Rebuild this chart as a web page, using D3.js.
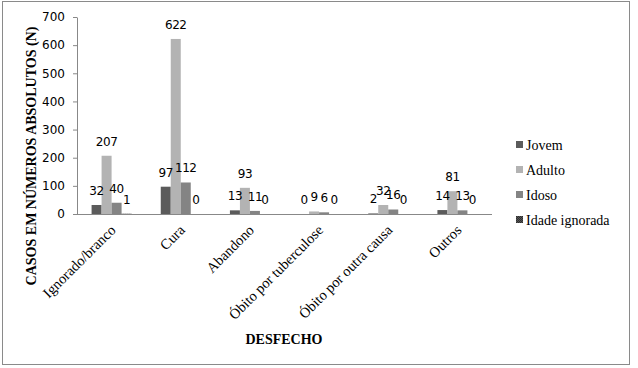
<!DOCTYPE html>
<html><head><meta charset="utf-8">
<script src="https://cdn.jsdelivr.net/npm/d3@7"></script>
<style>body{margin:0;background:#fff}svg{display:block}
.serif{font-family:"Liberation Serif","Times New Roman",Times,"DejaVu Serif",serif}</style>
</head><body>
<script>
const categories = ["Ignorado/branco","Cura","Abandono","Óbito por tuberculose","Óbito por outra causa","Outros"];
const seriesNames = ["Jovem","Adulto","Idoso","Idade ignorada"];
const jovem   = [32, 97, 13, 0, 2, 14];
const adulto  = [207, 622, 93, 9, 32, 81];
const idoso   = [40, 112, 11, 6, 16, 13];
const ignorada= [1, 0, 0, 0, 0, 0];
const yTicks = [0,100,200,300,400,500,600,700];
const seriesValues = [jovem, adulto, idoso, ignorada];
const colors = ["#5b5b5b","#b3b3b3","#848484","url(#hatch)"];

const W=638,H=368;
const svg=d3.select("body").append("svg").attr("width",W).attr("height",H);
const defs=svg.append("defs");
const pat=defs.append("pattern").attr("id","hatch").attr("patternUnits","userSpaceOnUse").attr("width",2).attr("height",2);
pat.append("rect").attr("width",2).attr("height",2).attr("fill","#555");
pat.append("rect").attr("width",1).attr("height",1).attr("fill","#2e2e2e");
pat.append("rect").attr("x",1).attr("y",1).attr("width",1).attr("height",1).attr("fill","#2e2e2e");

svg.append("rect").attr("x",2.5).attr("y",1.5).attr("width",627).attr("height",363).attr("fill","none").attr("stroke","#8a8a8a");

const x0=d3.scaleBand().domain(categories).range([77,492]).padding(0);
const barW=10;
const y=d3.scaleLinear().domain([0,700]).range([214,17]);

// y axis
const ya=svg.append("g").attr("transform","translate(77,0)")
  .call(d3.axisLeft(y).tickValues(yTicks).tickSize(4).tickSizeOuter(0).tickPadding(8));
ya.select(".domain").attr("stroke","#888");
ya.selectAll(".tick line").attr("stroke","#888");
ya.selectAll("text").attr("font-family","DejaVu Sans").attr("font-size",12).attr("fill","#000");

// bars
seriesValues.forEach((vals,si)=>{
  const g=svg.append("g");
  categories.forEach((c,ci)=>{
    const cx=x0(c)+x0.bandwidth()/2;
    const bx=cx-2*barW+si*barW;
    g.append("rect").attr("x",bx).attr("y",y(vals[ci])).attr("width",barW)
      .attr("height",y(0)-y(vals[ci])).attr("fill",colors[si]);
  });
});

// x axis line
svg.append("line").attr("x1",77).attr("x2",492).attr("y1",214.5).attr("y2",214.5).attr("stroke","#888");

// labels
seriesValues.forEach((vals,si)=>{
  categories.forEach((c,ci)=>{
    const cx=x0(c)+x0.bandwidth()/2;
    const bx=cx-2*barW+si*barW+barW/2;
    svg.append("text").attr("x",bx).attr("y",y(vals[ci])-10)
      .attr("text-anchor","middle").attr("font-family","DejaVu Sans").attr("font-size",12)
      .attr("letter-spacing",-0.4)
      .text(vals[ci]);
  });
});

// category labels
categories.forEach(c=>{
  const cx=x0(c)+x0.bandwidth()/2+5;
  svg.append("text").attr("class","serif").attr("transform",`translate(${cx},231) rotate(-45)`)
    .attr("text-anchor","end").attr("font-size",14.5)
    .text(c);
});

// titles
svg.append("text").attr("class","serif").attr("transform","translate(36,156) rotate(-90)").attr("text-anchor","middle")
  .attr("font-weight","bold").attr("font-size",14)
  .text("CASOS EM NÚMEROS ABSOLUTOS (N)");
svg.append("text").attr("class","serif").attr("x",284).attr("y",344).attr("text-anchor","middle")
  .attr("font-weight","bold").attr("font-size",14)
  .text("DESFECHO");

// legend
seriesNames.forEach((n,i)=>{
  const ly=145+i*25;
  svg.append("rect").attr("x",516).attr("y",ly-4).attr("width",7).attr("height",7).attr("fill",colors[i]);
  svg.append("text").attr("class","serif").attr("x",526).attr("y",ly+5).attr("font-size",14).text(n);
});
</script>
</body></html>
